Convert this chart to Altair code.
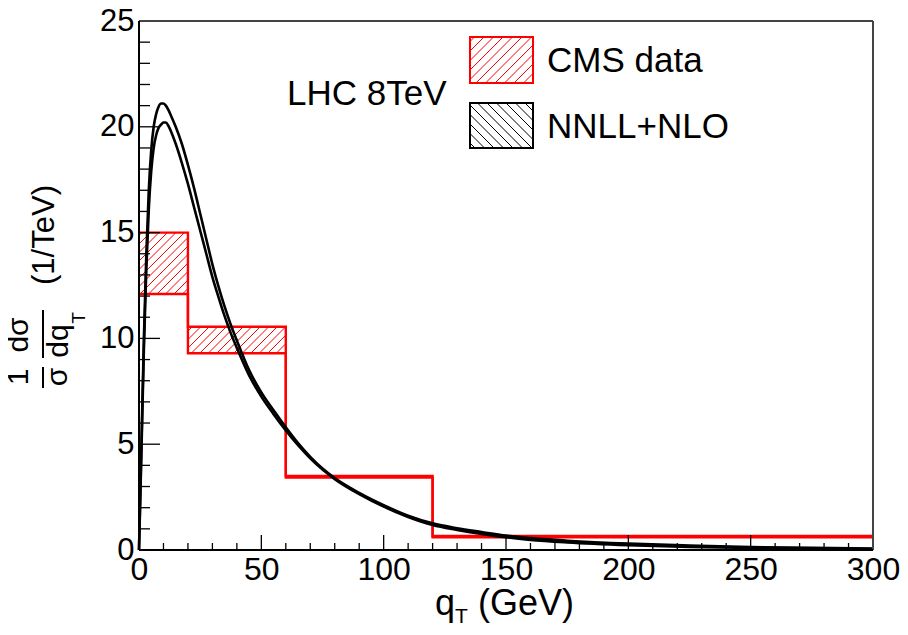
import altair as alt
import pandas as pd
import numpy as np

# ---------------- data ----------------
bin_lo = [0, 20, 60, 120]
bin_hi = [20, 60, 120, 300]
cms_low = [12.1, 9.3, 3.42, 0.6]
cms_high = [15.0, 10.55, 3.5, 0.66]

qt = [0, 1, 2, 3, 4, 5, 6, 7, 8, 9, 10, 11, 12, 13, 15, 17.5, 20, 22.5, 25, 27.5,
      30, 32.5, 35, 37.5, 40, 45, 50, 55, 60, 65, 70, 75, 80, 90, 100, 110, 120,
      130, 140, 150, 160, 175, 200, 225, 250, 275, 300]
nnll_up = [0, 5.0, 10.0, 14.0, 17.0, 18.9, 20.0, 20.6, 20.95, 21.1, 21.1, 21.0, 20.8,
           20.55, 20.0, 19.2, 18.2, 17.1, 15.9, 14.7, 13.5, 12.45, 11.5, 10.65, 9.9,
           8.5, 7.45, 6.6, 5.8, 5.05, 4.4, 3.85, 3.4, 2.7, 2.12, 1.62, 1.26, 1.03,
           0.85, 0.68, 0.56, 0.44, 0.3, 0.21, 0.14, 0.1, 0.07]
nnll_dn = [0, 4.7, 9.5, 13.3, 16.1, 17.9, 19.0, 19.6, 19.95, 20.1, 20.2, 20.2, 20.05,
           19.8, 19.2, 18.3, 17.3, 16.2, 15.1, 14.0, 12.9, 11.95, 11.05, 10.25, 9.55,
           8.25, 7.25, 6.42, 5.65, 4.95, 4.33, 3.8, 3.35, 2.64, 2.05, 1.56, 1.18, 0.95,
           0.76, 0.6, 0.48, 0.36, 0.23, 0.15, 0.1, 0.07, 0.04]

x_major = [0, 50, 100, 150, 200, 250, 300]
x_minor = [v for v in range(0, 301, 10) if v % 50 != 0]
y_major = [0, 5, 10, 15, 20, 25]
y_minor = [v for v in range(0, 26) if v % 5 != 0]

# ---------------- layout ----------------
W, H = 734, 529
XMAX, YMAX = 300, 25
sx, sy = W / XMAX, H / YMAX
HATCH = 8.5

xs = alt.Scale(domain=[0, XMAX], nice=False, zero=False)
ys = alt.Scale(domain=[0, YMAX], nice=False, zero=False)
FONT = "Liberation Sans"

x_axis = alt.Axis(values=x_major, ticks=False, domain=False, grid=False, title=None,
                  labelFont=FONT, labelFontSize=32, labelColor="black",
                  labelPadding=4, labelFlush=False, labelOverlap=False)
y_axis = alt.Axis(values=y_major, ticks=False, domain=False, grid=False, title=None,
                  labelFont=FONT, labelFontSize=31, labelColor="black",
                  labelPadding=5, labelFlush=False, labelOverlap=False)


def hatch_segments(X0, X1, Y0, Y1, slope, spacing):
    segs = []
    cs = [Y0 - slope * X0, Y0 - slope * X1, Y1 - slope * X0, Y1 - slope * X1]
    cmin, cmax = min(cs), max(cs)
    c = np.floor(cmin / spacing) * spacing
    while c <= cmax:
        if slope > 0:
            xa = max(X0, (Y0 - c) / slope)
            xb = min(X1, (Y1 - c) / slope)
        else:
            xa = max(X0, (Y1 - c) / slope)
            xb = min(X1, (Y0 - c) / slope)
        if xb - xa > 1e-6:
            segs.append((xa, slope * xa + c, xb, slope * xb + c))
        c += spacing
    return segs


# hatch of the data boxes (computed in pixel space, mapped back to data)
rows = []
for lo, hi, a, b in zip(bin_lo, bin_hi, cms_low, cms_high):
    if (b - a) * sy < 6:
        continue
    for (xa, ya, xb, yb) in hatch_segments(lo * sx, hi * sx, a * sy, b * sy, 1, HATCH):
        rows.append(dict(x=xa / sx, y=ya / sy, x2=xb / sx, y2=yb / sy))
df_hatch = pd.DataFrame(rows)

step_rows = []
for name, vals in (("hi", cms_high), ("lo", cms_low)):
    for lo, v in zip(bin_lo, vals):
        step_rows.append(dict(s=name, x=lo, y=v))
    step_rows.append(dict(s=name, x=bin_hi[-1], y=vals[-1]))
df_step = pd.DataFrame(step_rows)

df_th = pd.DataFrame(
    [dict(s="up", x=a, y=b) for a, b in zip(qt, nnll_up)]
    + [dict(s="dn", x=a, y=b) for a, b in zip(qt, nnll_dn)]
)

one = pd.DataFrame({"a": [0]})

hatch_layer = alt.Chart(df_hatch).mark_rule(color="red", strokeWidth=1).encode(
    x=alt.X("x:Q", scale=xs, axis=x_axis), y=alt.Y("y:Q", scale=ys, axis=y_axis),
    x2="x2:Q", y2="y2:Q")

step_layer = alt.Chart(df_step).mark_line(
    interpolate="step-after", color="red", strokeWidth=2.4).encode(
    x=alt.X("x:Q", scale=xs, axis=x_axis), y=alt.Y("y:Q", scale=ys, axis=y_axis),
    detail="s:N")

th_layer = alt.Chart(df_th).mark_line(
    interpolate="monotone", color="black", strokeWidth=2.6).encode(
    x=alt.X("x:Q", scale=xs, axis=x_axis), y=alt.Y("y:Q", scale=ys, axis=y_axis),
    detail="s:N")


def ticks_y(vals, length):
    return alt.Chart(pd.DataFrame({"v": vals})).mark_rule(
        color="black", strokeWidth=1.3).encode(
        y=alt.Y("v:Q", scale=ys, axis=y_axis), x=alt.value(0), x2=alt.value(length))


def ticks_x(vals, length):
    return alt.Chart(pd.DataFrame({"v": vals})).mark_rule(
        color="black", strokeWidth=1.3).encode(
        x=alt.X("v:Q", scale=xs, axis=x_axis), y=alt.value(H), y2=alt.value(H - length))


def vrule(x, y1, y2, color="black", w=2):
    return alt.Chart(one).mark_rule(color=color, strokeWidth=w).encode(
        x=alt.value(x), y=alt.value(y1), y2=alt.value(y2))


def hrule(y, x1, x2, color="black", w=2):
    return alt.Chart(one).mark_rule(color=color, strokeWidth=w).encode(
        y=alt.value(y), x=alt.value(x1), x2=alt.value(x2))


def text(t, x, y, size, angle=0, align="left", baseline="alphabetic", font=FONT):
    kw = dict(text=t, fontSize=size, font=font, color="black", align=align,
              baseline=baseline)
    if angle:
        kw["angle"] = angle
    return alt.Chart(one).mark_text(**kw).encode(x=alt.value(x), y=alt.value(y))


frame = [
    vrule(W, 0, H, "#444", 2),
    hrule(0, 0, W, "#444", 2),
    vrule(0, 0, H, "black", 2),
    hrule(H, 0, W, "black", 2),
]

# legend (pixel space within the plot area)
LX0, LX1 = 331, 394
leg_boxes = [(16, 62, "red", -1, "CMS data"), (82, 127, "black", 1, "NNLL+NLO")]
leg_layers = []
for (t, b, col, slope, lab) in leg_boxes:
    segs = hatch_segments(LX0, LX1, t, b, slope, HATCH + 1)
    dseg = pd.DataFrame([dict(x=a, y=c, x2=d, y2=e) for (a, c, d, e) in segs])
    leg_layers.append(alt.Chart(dseg).mark_rule(color=col, strokeWidth=1).encode(
        x=alt.X("x:Q", scale=None), y=alt.Y("y:Q", scale=None),
        x2="x2:Q", y2="y2:Q"))
    leg_layers.append(alt.Chart(one).mark_rect(
        fill=None, fillOpacity=0, stroke=col, strokeWidth=2).encode(
        x=alt.value(LX0), x2=alt.value(LX1), y=alt.value(t), y2=alt.value(b)))
    leg_layers.append(text(lab, 408, (t + b) / 2 + 12, 35))

labels = [
    text("LHC 8TeV", 148, 84, 35),
    # x axis title
    text("q", 316, 594, 36, align="right"),
    text("T", 316, 602, 21, align="left"),
    text("(GeV)", 339, 594, 36, align="left"),
    # y axis title (rotated)
    text("1", -120, 356, 30, angle=270, align="center", baseline="middle"),
    text("σ", -81, 356, 30, angle=270, align="center", baseline="middle"),
    vrule(-96, 346, 367, "black", 2),
    text("dσ", -120, 314, 30, angle=270, align="center", baseline="middle"),
    text("dq", -80, 320, 30, angle=270, align="center", baseline="middle"),
    text("T", -60, 297, 19, angle=270, align="center", baseline="middle"),
    vrule(-96, 289, 337, "black", 2),
    text("(1/TeV)", -94, 214, 31, angle=270, align="center", baseline="middle"),
]

chart = alt.layer(
    hatch_layer, step_layer, th_layer,
    ticks_y(y_major, 21), ticks_y(y_minor, 11),
    ticks_x(x_major, 15), ticks_x(x_minor, 7),
    *frame, *leg_layers, *labels,
).properties(
    width=W, height=H,
    autosize=alt.AutoSizeParams(type="none"),
    padding={"left": 131, "top": 13, "right": 27, "bottom": 77},
).configure_view(stroke=None).configure(background="white")

chart.save("out.html", embed_options={"renderer": "svg", "actions": False})
